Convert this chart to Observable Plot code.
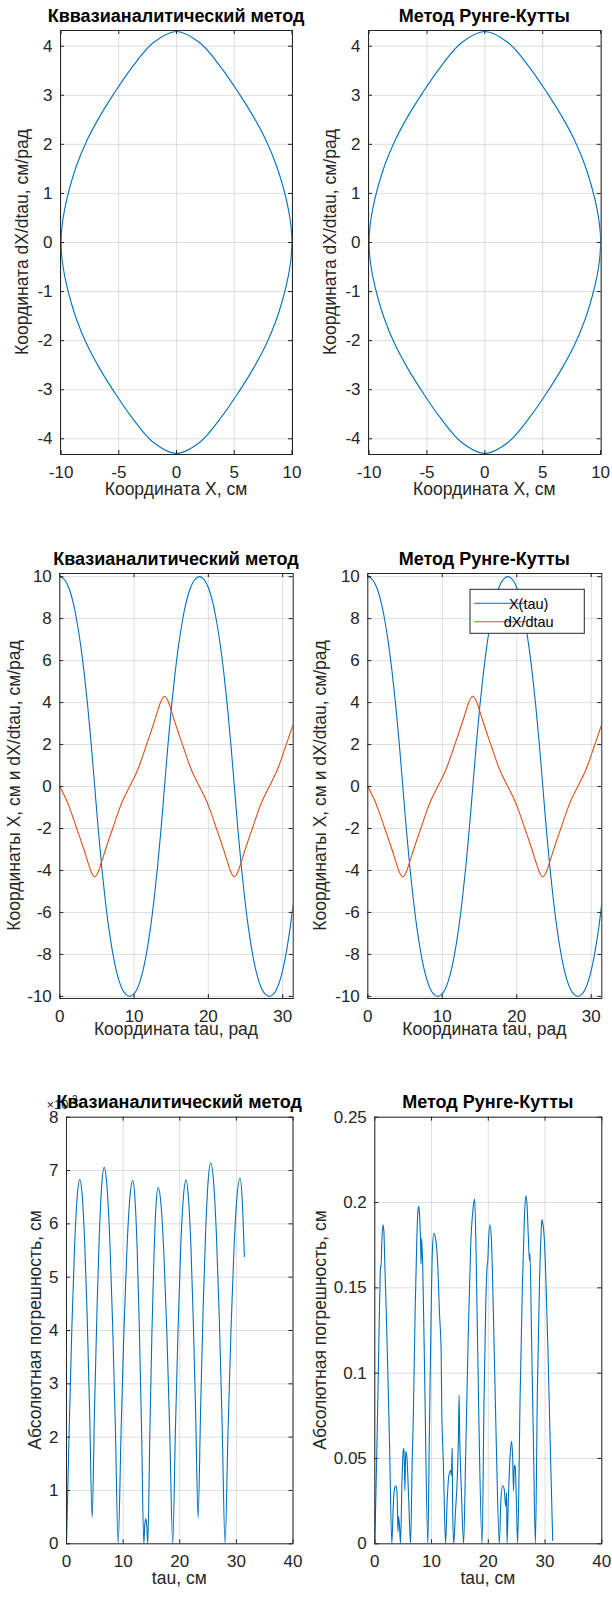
<!DOCTYPE html>
<html>
<head>
<meta charset="utf-8">
<script src="https://cdn.jsdelivr.net/npm/d3@7"></script>
<script src="https://cdn.jsdelivr.net/npm/@observablehq/plot@0.6"></script>
<style>
  body { margin: 0; background: #fff; }
  #fig { position: relative; width: 612px; height: 1600px; background: #fff; overflow: hidden; }
  #fig svg { position: absolute; overflow: visible; }
</style>
</head>
<body>
<div id="fig"></div>
<script>
// Time samples of the solution (rad)
const tau = [
  0, 0.47, 0.94, 1.41, 1.88, 2.35, 2.82, 3.29, 3.76, 4.23,
  4.70, 5.17, 5.64, 6.11, 6.58, 7.05, 7.52, 7.99, 8.46, 8.93,
  9.40, 9.87, 10.34, 10.81, 11.28, 11.75, 12.22, 12.69, 13.16, 13.63,
  14.10, 14.57, 15.04, 15.51, 15.98, 16.45, 16.92, 17.39, 17.86, 18.33,
  18.80, 19.27, 19.74, 20.21, 20.68, 21.15, 21.62, 22.09, 22.56, 23.03,
  23.50, 23.97, 24.44, 24.91, 25.38, 25.85, 26.32, 26.79, 27.26, 27.73,
  28.20, 28.67, 29.14, 29.61, 30.08, 30.55, 31.02, 31.40
];
// Coordinate X(tau), cm
const xTau = [
  10, 9.92, 9.69, 9.27, 8.64, 7.78, 6.70, 5.38, 3.82, 2.02,
  0, -2.02, -3.82, -5.38, -6.70, -7.78, -8.64, -9.27, -9.69, -9.92,
  -10, -9.92, -9.69, -9.27, -8.64, -7.78, -6.70, -5.38, -3.82, -2.02,
  0, 2.02, 3.82, 5.38, 6.70, 7.78, 8.64, 9.27, 9.69, 9.92,
  10, 9.92, 9.69, 9.27, 8.64, 7.78, 6.70, 5.38, 3.82, 2.02,
  0, -2.02, -3.82, -5.38, -6.70, -7.78, -8.64, -9.27, -9.69, -9.92,
  -10, -9.92, -9.69, -9.27, -8.64, -7.78, -6.70, -5.63
];
// Derivative dX/dtau, cm/rad
const dxTau = [
  0, -0.33, -0.68, -1.10, -1.58, -2.07, -2.55, -3.05, -3.58, -4.07,
  -4.30, -4.07, -3.58, -3.05, -2.55, -2.07, -1.58, -1.10, -0.68, -0.33,
  0, 0.33, 0.68, 1.10, 1.58, 2.07, 2.55, 3.05, 3.58, 4.07,
  4.30, 4.07, 3.58, 3.05, 2.55, 2.07, 1.58, 1.10, 0.68, 0.33,
  0, -0.33, -0.68, -1.10, -1.58, -2.07, -2.55, -3.05, -3.58, -4.07,
  -4.30, -4.07, -3.58, -3.05, -2.55, -2.07, -1.58, -1.10, -0.68, -0.33,
  0, 0.33, 0.68, 1.10, 1.58, 2.07, 2.55, 2.96
];

// Absolute error of the quasi-analytical method (units of 1e-2 cm)
const errQuasiTau = [
  0, 0.47, 0.94, 1.41, 1.88, 2.35, 2.79, 3.22, 3.66, 4.09,
  4.53, 4.95, 5.38, 5.80, 6.23, 6.65, 7.14, 7.64, 8.13, 8.63,
  9.12, 9.64, 10.15, 10.67, 11.18, 11.70, 12.09, 12.48, 12.87, 13.26,
  13.65, 13.83, 14.00, 14.17, 14.35, 14.72, 15.08, 15.45, 15.81, 16.18,
  16.70, 17.21, 17.73, 18.24, 18.76, 19.23, 19.70, 20.16, 20.63, 21.10,
  21.53, 21.96, 22.38, 22.81, 23.24, 23.69, 24.13, 24.58, 25.02, 25.47,
  25.98, 26.48, 26.99, 27.49, 28.00, 28.53, 29.06, 29.59, 30.12, 30.65,
  31.03, 31.41
];
const errQuasi = [
  0, 2.12, 4.03, 5.53, 6.49, 6.83, 6.51, 5.63, 4.23, 2.46,
  0.49, 2.53, 4.37, 5.81, 6.73, 7.06, 6.71, 5.72, 4.17, 2.19,
  0, 2.11, 4.02, 5.52, 6.47, 6.81, 6.47, 5.52, 4.02, 2.11,
  0, 0.36, 0.47, 0.36, 0, 2.07, 3.94, 5.41, 6.35, 6.68,
  6.35, 5.41, 3.94, 2.07, 0, 2.11, 4.02, 5.52, 6.48, 6.82,
  6.50, 5.62, 4.22, 2.45, 0.49, 2.55, 4.41, 5.88, 6.81, 7.14,
  6.78, 5.78, 4.21, 2.21, 0, 2.13, 4.05, 5.56, 6.52, 6.86,
  6.45, 5.39
];

// Absolute error of the Runge-Kutta method, cm
const errRKTau = [
  0, 0.2, 0.45, 0.7, 0.95, 1.02, 1.1, 1.25, 1.45, 1.6,
  1.8, 2.0, 2.3, 2.6, 3.0, 3.25, 3.5, 3.7, 3.9, 4.0,
  4.08, 4.18, 4.35, 4.53, 4.8, 5.0, 5.15, 5.3, 5.45, 5.65,
  5.95, 6.3, 6.6, 6.78, 7.1, 7.4, 7.6, 7.75, 7.9, 8.1,
  8.15, 8.25, 8.45, 8.8, 9.35, 9.6, 9.9, 10.15, 10.4, 10.75,
  11.05, 11.4, 11.7, 11.78, 12.1, 12.47, 12.75, 13.05, 13.35, 13.5,
  13.62, 13.72, 13.9, 14.2, 14.55, 14.75, 14.85, 14.95, 15.25, 15.65,
  16.0, 16.45, 16.9, 17.3, 17.6, 17.85, 18.3, 18.9, 19.25, 19.55,
  19.8, 19.9, 20.05, 20.3, 20.55, 20.9, 21.4, 21.95, 22.2, 22.5,
  22.8, 23.0, 23.12, 23.22, 23.3, 23.55, 23.85, 24.1, 24.3, 24.45,
  24.58, 24.75, 24.95, 25.17, 25.6, 26.0, 26.35, 26.6, 26.8, 27.05,
  27.25, 27.35, 27.6, 27.95, 28.3, 28.65, 29.0, 29.3, 29.45, 29.6,
  29.85, 30.1, 30.5, 30.9, 31.35
];
const errRK = [
  0, 0.03, 0.07, 0.115, 0.158, 0.163, 0.162, 0.178, 0.187, 0.183,
  0.16, 0.138, 0.1, 0.058, 0, 0.022, 0.033, 0.034, 0.031, 0.02,
  0.007, 0.016, 0.011, 0, 0.038, 0.054, 0.056, 0.031, 0.054, 0.051,
  0.028, 0, 0.05, 0.073, 0.135, 0.178, 0.195, 0.198, 0.192, 0.172,
  0.164, 0.179, 0.162, 0.095, 0, 0.06, 0.13, 0.172, 0.182, 0.178,
  0.166, 0.135, 0.112, 0.083, 0.045, 0, 0.025, 0.04, 0.043, 0.04,
  0.056, 0.02, 0, 0.018, 0.04, 0.065, 0.087, 0.065, 0.032, 0,
  0.05, 0.12, 0.175, 0.196, 0.202, 0.17, 0.08, 0, 0.085, 0.14,
  0.163, 0.165, 0.178, 0.187, 0.178, 0.135, 0.06, 0, 0.024, 0.034,
  0.032, 0.024, 0.022, 0.03, 0, 0.028, 0.052, 0.06, 0.05, 0.031,
  0.046, 0.045, 0.025, 0, 0.085, 0.15, 0.19, 0.204, 0.2, 0.18,
  0.166, 0.17, 0.125, 0.06, 0, 0.09, 0.15, 0.182, 0.19, 0.188,
  0.18, 0.16, 0.115, 0.06, 0.002
];

// Tick values
const phaseXTicks = [-10, -5, 0, 5, 10];
const phaseYTicks = [-4, -3, -2, -1, 0, 1, 2, 3, 4];
const timeXTicks = [0, 10, 20, 30];
const timeYTicks = [-10, -8, -6, -4, -2, 0, 2, 4, 6, 8, 10];
const errXTicks = [0, 10, 20, 30, 40];
const errQuasiYTicks = [0, 1, 2, 3, 4, 5, 6, 7, 8];
const errRKYTicks = [0, 0.05, 0.1, 0.15, 0.2, 0.25];

// Text
const titleQuasiPhase = "Кввазианалитический метод";
const titleQuasi = "Квазианалитический метод";
const titleRK = "Метод Рунге-Кутты";
const seriesNames = ["X(tau)", "dX/dtau"];

const FONT = '"Liberation Sans", Arial, Helvetica, sans-serif';
const INK = "#262626";
const BLUE = "#0072BD";
const ORANGE = "#D95319";
const TICK = 4;
const fmt = d => (d < 0 ? "-" + String(-d) : String(d));

const fig = document.getElementById("fig");

const timeRows = tau.map((t, i) => ({t, x: xTau[i], dx: dxTau[i]}));
const quasiRows = errQuasiTau.map((t, i) => ({t, e: errQuasi[i]}));
const rkRows = errRKTau.map((t, i) => ({t, e: errRK[i]}));

function panel(o) {
  const [mt, mr, mb, ml] = o.m;
  const iw = o.width - ml - mr, ih = o.height - mt - mb;
  const svg = Plot.plot({
    width: o.width, height: o.height,
    marginTop: mt, marginRight: mr, marginBottom: mb, marginLeft: ml,
    style: {fontFamily: FONT, fontSize: "17px", color: INK, background: "transparent", overflow: "visible"},
    x: {domain: o.xDomain, label: null},
    y: {domain: o.yDomain, label: null},
    marks: [
      Plot.gridX(o.xTicks, {stroke: INK, strokeOpacity: 0.15, strokeWidth: 1}),
      Plot.gridY(o.yTicks, {stroke: INK, strokeOpacity: 0.15, strokeWidth: 1}),
      ...o.marks,
      // inward ticks on all four sides
      Plot.tickX(o.xTicks, {x: d => d, stroke: INK, insetTop: ih - TICK}),
      Plot.tickX(o.xTicks, {x: d => d, stroke: INK, insetBottom: ih - TICK}),
      Plot.tickY(o.yTicks, {y: d => d, stroke: INK, insetRight: iw - TICK}),
      Plot.tickY(o.yTicks, {y: d => d, stroke: INK, insetLeft: iw - TICK}),
      Plot.axisX(o.xTicks, {tickSize: 0, tickPadding: 11, tickFormat: fmt, label: null, fill: INK}),
      Plot.axisY(o.yTicks, {tickSize: 0, tickPadding: 8, tickFormat: fmt, label: null, fill: INK}),
      Plot.frame({stroke: INK, strokeWidth: 1})
    ]
  });
  svg.style.left = o.left + "px";
  svg.style.top = o.top + "px";
  const s = d3.select(svg);
  if (o.extra) o.extra(s, {mt, ml, iw, ih});
  s.append("text")
    .attr("x", ml + iw / 2).attr("y", mt - 8.5)
    .attr("text-anchor", "middle").attr("font-weight", "bold")
    .attr("font-size", 18).attr("fill", "#000")
    .text(o.title);
  s.append("text")
    .attr("x", ml + iw / 2).attr("y", o.xLabelY)
    .attr("text-anchor", "middle").attr("font-size", 17.5).attr("fill", INK)
    .text(o.xLabel);
  s.append("text")
    .attr("transform", `translate(${o.yLabelX},${mt + ih / 2}) rotate(-90)`)
    .attr("text-anchor", "middle").attr("font-size", 17.5).attr("fill", INK)
    .text(o.yLabel);
  fig.appendChild(svg);
}

const lineOpts = {strokeWidth: 1.1, clip: true};

// Row 1: phase portraits, dX/dtau against X
const phaseMarks = () => [
  Plot.line(timeRows, {x: "x", y: "dx", stroke: BLUE, curve: "catmull-rom", ...lineOpts})
];
panel({
  left: 0, top: 0, width: 306, height: 520, m: [30, 14, 66, 60],
  xDomain: [-10.05, 10.05], yDomain: [-4.32, 4.32],
  xTicks: phaseXTicks, yTicks: phaseYTicks, marks: phaseMarks(),
  title: titleQuasiPhase, xLabel: "Координата X, см", xLabelY: 495,
  yLabel: "Координата dX/dtau, см/рад", yLabelX: 28
});
panel({
  left: 306, top: 0, width: 306, height: 520, m: [30, 11.3, 66, 62],
  xDomain: [-10.05, 10.05], yDomain: [-4.32, 4.32],
  xTicks: phaseXTicks, yTicks: phaseYTicks, marks: phaseMarks(),
  title: titleRK, xLabel: "Координата X, см", xLabelY: 495,
  yLabel: "Координата dX/dtau, см/рад", yLabelX: 29.5
});

// Row 2: X and dX/dtau against tau
const timeMarks = () => [
  Plot.line(timeRows, {x: "t", y: "x", stroke: BLUE, curve: "monotone-x", ...lineOpts}),
  Plot.line(timeRows, {x: "t", y: "dx", stroke: ORANGE, curve: "monotone-x", ...lineOpts})
];
panel({
  left: 0, top: 520, width: 306, height: 540, m: [53, 13.3, 62, 59.3],
  xDomain: [0, 31.42], yDomain: [-10.1, 10.15],
  xTicks: timeXTicks, yTicks: timeYTicks, marks: timeMarks(),
  title: titleQuasi, xLabel: "Координата tau, рад", xLabelY: 515,
  yLabel: "Координаты X, см и dX/dtau, см/рад", yLabelX: 19.5
});
panel({
  left: 306, top: 520, width: 306, height: 540, m: [53, 10.7, 62, 61.3],
  xDomain: [0, 31.42], yDomain: [-10.1, 10.15],
  xTicks: timeXTicks, yTicks: timeYTicks, marks: timeMarks(),
  title: titleRK, xLabel: "Координата tau, рад", xLabelY: 515,
  yLabel: "Координаты X, см и dX/dtau, см/рад", yLabelX: 20,
  extra: (s) => {
    const g = s.append("g");
    g.append("rect").attr("x", 164).attr("y", 69.3).attr("width", 114.3).attr("height", 44)
      .attr("fill", "#fff").attr("stroke", INK).attr("stroke-width", 1);
    [BLUE, ORANGE].forEach((c, k) => {
      const yy = 83.3 + k * 18.4;
      g.append("line").attr("x1", 168).attr("x2", 220).attr("y1", yy).attr("y2", yy)
        .attr("stroke", c).attr("stroke-width", 1.1);
      g.append("text").attr("x", 222.7).attr("y", yy + 5.2)
        .attr("font-size", 14.5).attr("fill", "#000").text(seriesNames[k]);
    });
  }
});

// Row 3: absolute errors
panel({
  left: 0, top: 1060, width: 306, height: 540, m: [56.7, 13.5, 56.7, 66],
  xDomain: [0, 40], yDomain: [0, 8],
  xTicks: errXTicks, yTicks: errQuasiYTicks,
  marks: [Plot.line(quasiRows, {x: "t", y: "e", stroke: BLUE, curve: "monotone-x", ...lineOpts})],
  title: titleQuasi, xLabel: "tau, см", xLabelY: 524,
  yLabel: "Абсолютная погрешность, см", yLabelX: 41,
  extra: (s, {mt, ml}) => {
    // axis exponent, drawn beneath the title
    const t = s.append("text").attr("x", ml - 4).attr("y", mt - 8)
      .attr("font-size", 13).attr("fill", INK).text("×10");
    t.append("tspan").attr("dy", -6).attr("font-size", 10).text("-2");
  }
});
panel({
  left: 306, top: 1060, width: 306, height: 540, m: [56.7, 10.7, 56.7, 68.3],
  xDomain: [0, 40], yDomain: [0, 0.25],
  xTicks: errXTicks, yTicks: errRKYTicks,
  marks: [Plot.line(rkRows, {x: "t", y: "e", stroke: BLUE, curve: "monotone-x", ...lineOpts})],
  title: titleRK, xLabel: "tau, см", xLabelY: 524,
  yLabel: "Абсолютная погрешность, см", yLabelX: 20
});
</script>
</body>
</html>
